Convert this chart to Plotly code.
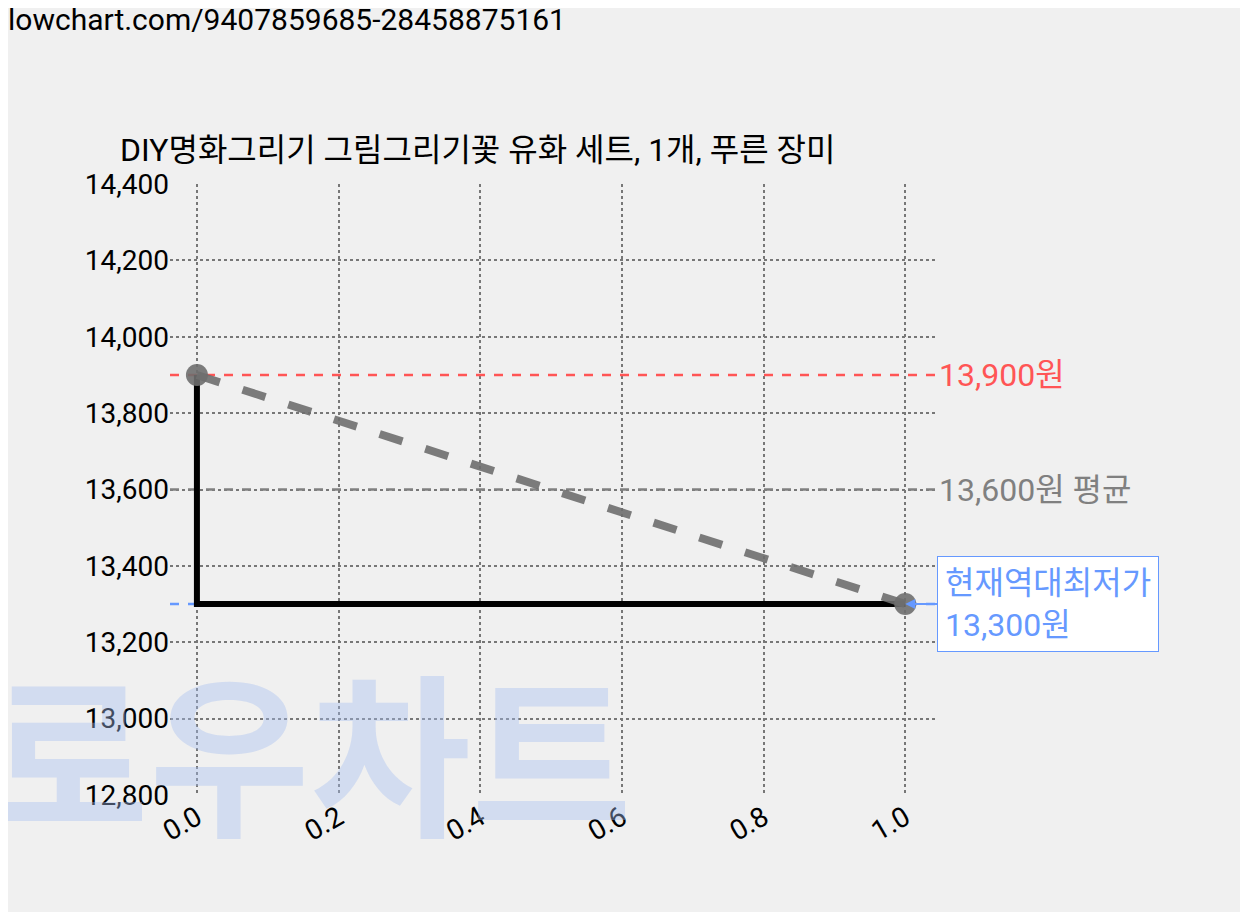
import plotly.graph_objects as go

title = "DIY명화그리기 그림그리기꽃 유화 세트, 1개, 푸른 장미"
url_text = "lowchart.com/9407859685-28458875161"
x_vals = [0, 1]
prices = [13900, 13300]
max_price = 13900
avg_price = 13600
min_price = 13300

font = "Roboto, 'Noto Sans CJK KR', sans-serif"
x_lo, x_hi = -0.038, 1.042

fig = go.Figure()

# watermark
fig.add_annotation(text="<b>로우차트</b>", xref="paper", yref="paper", x=-0.24, y=0.08,
                   xanchor="left", yanchor="middle", showarrow=False,
                   font=dict(size=175, color="rgba(165,190,240,0.4)",
                             family="'Noto Sans CJK KR', sans-serif"))

for val, col in [(max_price, "#ff5555"), (avg_price, "#808080"), (min_price, "#6699ff")]:
    fig.add_trace(go.Scatter(x=[x_lo, x_hi], y=[val, val], mode="lines",
                             line=dict(color=col, width=2.5, dash="dash"),
                             hoverinfo="skip", showlegend=False))

fig.add_trace(go.Scatter(x=x_vals, y=prices, mode="lines", line_shape="vh",
                         line=dict(color="black", width=6), showlegend=False))
fig.add_trace(go.Scatter(x=x_vals, y=prices, mode="lines+markers",
                         line=dict(color="rgba(110,110,110,0.9)", width=8, dash="dash"),
                         marker=dict(size=22, color="rgba(110,110,110,0.9)"),
                         showlegend=False))

fig.add_annotation(text=f"{max_price:,}원", x=x_hi, y=max_price, xanchor="left",
                   showarrow=False, xshift=2, font=dict(size=32, color="#ff5555", family=font))
fig.add_annotation(text=f"{avg_price:,}원 평균", x=x_hi, y=avg_price, xanchor="left",
                   showarrow=False, xshift=2, font=dict(size=32, color="#808080", family=font))
fig.add_annotation(text=f"현재역대최저가<br>{min_price:,}원", x=1, y=min_price,
                   ax=32, ay=0, xanchor="left", align="left", showarrow=True,
                   arrowhead=2, arrowcolor="#6699ff", arrowwidth=2,
                   bordercolor="#6699ff", borderwidth=1, borderpad=7, bgcolor="white",
                   font=dict(size=32, color="#6699ff", family=font))

fig.add_annotation(text=url_text, xref="paper", yref="paper", x=-0.214, y=1.27,
                   xanchor="left", yanchor="middle", showarrow=False,
                   font=dict(size=30, color="black", family=font))

grid = dict(showgrid=True, gridcolor="#777777", griddash="dot", gridwidth=2,
            zeroline=False, showline=False, ticks="")
fig.update_layout(
    width=1248, height=912,
    paper_bgcolor="#f0f0f0", plot_bgcolor="#f0f0f0",
    margin=dict(l=162, r=321, t=176, b=125),
    title=dict(text=title, x=112 / 1248, xanchor="left", y=1 - 142 / 912, yanchor="middle",
               font=dict(size=32, color="black", family=font)),
    xaxis=dict(range=[x_lo, x_hi], tickvals=[0, 0.2, 0.4, 0.6, 0.8, 1.0],
               ticktext=["0.0", "0.2", "0.4", "0.6", "0.8", "1.0"], tickangle=-30,
               tickfont=dict(size=28, family=font, color="black"), **grid),
    yaxis=dict(range=[12800, 14400], dtick=200, tickformat=",",
               tickfont=dict(size=28, family=font, color="black"), **grid),
)

fig.write_html("out.html")
